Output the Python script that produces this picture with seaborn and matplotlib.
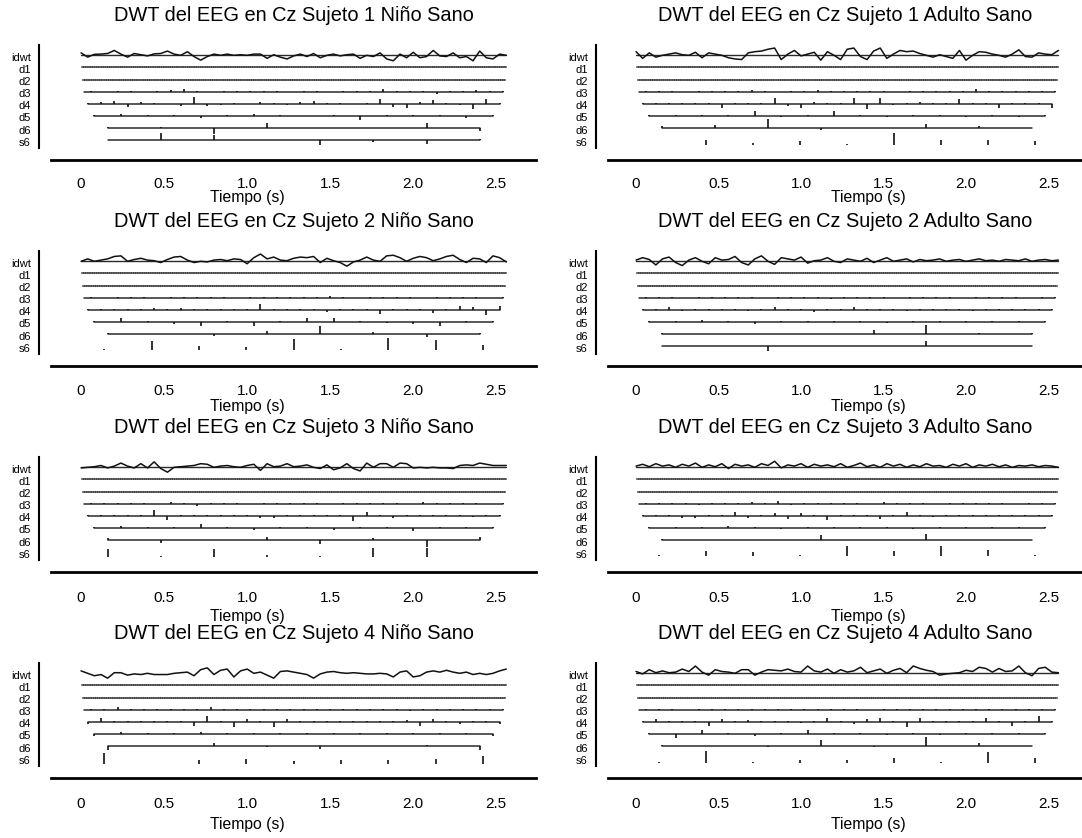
import numpy as np
import matplotlib
matplotlib.use("Agg")
import matplotlib.pyplot as plt
import seaborn as sns

# ---------------- data ----------------
titles = [
    "DWT del EEG en Cz Sujeto 1 Niño Sano", "DWT del EEG en Cz Sujeto 1 Adulto Sano",
    "DWT del EEG en Cz Sujeto 2 Niño Sano", "DWT del EEG en Cz Sujeto 2 Adulto Sano",
    "DWT del EEG en Cz Sujeto 3 Niño Sano", "DWT del EEG en Cz Sujeto 3 Adulto Sano",
    "DWT del EEG en Cz Sujeto 4 Niño Sano", "DWT del EEG en Cz Sujeto 4 Adulto Sano",
]
level_names = ["idwt", "d1", "d2", "d3", "d4", "d5", "d6", "s6"]
xtick_values = [0, 0.5, 1.0, 1.5, 2.0, 2.5]
xtick_labels = ["0", "0.5", "1.0", "1.5", "2.0", "2.5"]
xlabel = "Tiempo (s)"

# time spans (s) of each decomposition level
span_idwt = (0.0, 2.56)
span_d1 = (0.005, 2.56)
span_d2 = (0.01, 2.55)
span_d3 = (0.02, 2.54)
span_d4 = (0.04, 2.52)
span_d5 = (0.08, 2.48)
span_d6 = (0.16, 2.40)
span_s6_9 = (0.14, 2.42)

# reconstructed signal (idwt), every 0.04 s
idwt_1 = [0.2, -0.15, 0.08, 0.1, 0.15, 0.4, 0.1, -0.15, 0.15, 0.05,
          -0.05, 0.12, 0.15, 0.35, 0.1, 0.0, 0.3, -0.1, -0.4, -0.1,
          0.1, 0.0, 0.1, 0.0, 0.05, 0.0, 0.1, 0.1, -0.25, 0.05,
          -0.15, -0.3, -0.05, 0.1, -0.1, 0.15, -0.2, 0.0, 0.1, -0.05,
          0.05, 0.1, -0.25, 0.0, -0.1, 0.2, -0.3, -0.45, 0.1, -0.2,
          0.25, -0.2, -0.1, 0.4, -0.05, -0.1, 0.2, -0.2, -0.1, -0.45,
          0.35, -0.2, -0.3, 0.1, 0.0]
idwt_2 = [0.3, -0.25, 0.2, -0.15, 0.0, 0.1, 0.2, 0.05, 0.0, 0.25,
          -0.2, 0.2, 0.1, 0.0, -0.2, -0.3, -0.35, 0.2, 0.3, 0.35,
          0.5, 0.6, -0.35, 0.1, 0.4, -0.05, 0.1, 0.25, -0.4, 0.3,
          0.0, -0.35, 0.5, 0.6, -0.1, -0.35, 0.35, 0.6, -0.25, 0.1,
          0.4, 0.3, 0.35, 0.15, 0.0, -0.15, 0.05, -0.1, -0.25, 0.4,
          -0.4, 0.0, 0.3, 0.25, 0.1, 0.0, -0.15, 0.1, 0.45, -0.1,
          -0.15, 0.2, 0.1, 0.05, 0.4]
idwt_3 = [0.0, 0.2, 0.0, 0.1, 0.2, 0.4, 0.45, 0.0, 0.15, 0.25,
          0.1, 0.05, -0.1, 0.15, 0.35, 0.4, 0.1, -0.1, 0.0, -0.05,
          0.1, 0.15, 0.05, 0.2, 0.15, -0.2, 0.3, 0.6, 0.2, 0.35,
          0.1, 0.05, 0.25, 0.35, 0.3, 0.4, -0.1, 0.25, 0.05, -0.1,
          -0.4, -0.05, 0.1, 0.35, 0.1, 0.0, 0.45, 0.5, 0.3, 0.0,
          0.25, 0.4, 0.3, 0.05, 0.2, 0.4, 0.5, 0.15, -0.1, 0.25,
          0.2, -0.1, 0.45, 0.3, -0.05]
idwt_4 = [0.1, 0.3, 0.15, -0.3, 0.2, 0.35, -0.1, -0.35, 0.1, 0.3,
          0.0, -0.2, 0.3, 0.1, 0.15, 0.4, -0.1, -0.3, 0.2, 0.45,
          0.0, -0.25, 0.3, 0.2, 0.1, 0.35, -0.15, 0.05, 0.1, 0.3,
          0.0, -0.1, 0.2, 0.1, 0.0, 0.25, -0.1, 0.1, 0.3, 0.0,
          0.1, 0.2, -0.05, 0.15, 0.05, 0.1, 0.2, 0.0, 0.1, 0.15,
          0.0, 0.1, 0.2, 0.05, 0.1, 0.0, 0.15, 0.1, 0.05, 0.2,
          0.0, 0.1, 0.15, 0.05, 0.1]
idwt_5 = [-0.05, 0.0, 0.05, 0.15, -0.05, 0.1, 0.35, 0.1, -0.05, 0.3,
          -0.05, 0.45, -0.1, -0.4, 0.0, 0.05, 0.1, 0.15, 0.3, 0.25,
          0.0, 0.1, 0.15, 0.05, 0.0, 0.15, 0.25, -0.25, 0.3, 0.05,
          0.1, 0.3, 0.05, 0.1, 0.2, 0.0, -0.1, 0.2, -0.2, -0.05,
          0.3, -0.1, -0.3, 0.35, 0.0, 0.3, 0.3, 0.0, 0.35, 0.3,
          -0.05, 0.0, -0.05, 0.0, -0.05, -0.05, -0.1, 0.15, 0.2, 0.15,
          0.35, 0.25, 0.15, 0.15, 0.15]
idwt_6 = [0.1, 0.25, 0.05, 0.3, 0.1, 0.2, 0.0, 0.25, 0.1, 0.35,
          0.0, 0.2, 0.05, 0.3, -0.1, 0.25, 0.1, 0.2, 0.0, 0.3,
          0.15, 0.5, -0.05, 0.2, 0.1, 0.3, 0.0, 0.25, 0.1, 0.2,
          0.05, 0.3, 0.0, 0.15, 0.35, 0.05, 0.2, 0.0, 0.3, 0.1,
          0.25, 0.0, 0.2, 0.05, 0.3, 0.1, 0.15, 0.0, 0.25, 0.1,
          0.3, 0.0, 0.2, 0.1, 0.25, 0.05, 0.2, 0.0, 0.15, 0.1,
          0.2, 0.05, 0.15, 0.1, 0.0]
idwt_7 = [0.2, 0.0, -0.2, -0.1, -0.4, 0.05, 0.05, -0.15, -0.05, -0.1,
          0.0, -0.1, -0.1, -0.1, 0.0, 0.05, 0.1, -0.2, 0.3, 0.45,
          -0.1, 0.25, 0.35, -0.3, 0.2, 0.35, 0.0, 0.1, -0.15, -0.4,
          0.15, 0.2, 0.1, 0.0, -0.1, -0.4, -0.05, 0.1, 0.15, 0.05,
          0.0, 0.05, 0.0, -0.05, -0.05, 0.0, -0.05, -0.3, 0.1, 0.2,
          -0.3, -0.2, 0.1, 0.2, 0.1, 0.25, 0.1, 0.0, 0.1, -0.1,
          0.0, -0.1, 0.0, 0.2, 0.35]
idwt_8 = [0.15, -0.05, 0.3, 0.05, 0.2, 0.05, 0.1, 0.35, 0.15, 0.6,
          0.1, -0.15, 0.3, 0.15, 0.1, 0.0, 0.3, 0.3, -0.15, 0.1,
          0.3, 0.25, 0.2, 0.35, 0.15, 0.1, 0.6, 0.2, 0.1, 0.35,
          0.0, 0.3, 0.1, 0.2, 0.5, 0.05, 0.2, 0.35, 0.0, 0.25,
          0.4, 0.05, 0.6, 0.4, 0.25, 0.15, -0.15, -0.05, 0.0, 0.05,
          0.25, 0.15, 0.5, 0.4, 0.1, 0.4, 0.15, 0.2, 0.6, 0.05,
          -0.2, 0.4, 0.5, 0.1, 0.05]

# detail coefficients d3 (32), d4 (32), d5 (16), d6 (8), approximation s6
d3_1 = [0.05, -0.05, 0.05, 0.05, -0.05, 0.05, 0.15, 0.2, 0.1, -0.05, 0.05, 0.05, 0.05, 0.1, 0.05, -0.05,
        0.05, 0.05, -0.05, 0.05, 0.05, 0.05, 0.2, 0.1, 0.05, 0.1, -0.15, 0.05, 0.05, 0.15, 0.1, 0.05]
d3_2 = [0.05, 0.1, 0.05, -0.05, 0.1, 0.05, 0.1, 0.05, 0.15, 0.05, -0.05, 0.05, 0.1, 0.15, 0.05, 0.05,
        0.1, 0.05, 0.05, -0.05, 0.1, 0.05, 0.05, 0.1, 0.05, 0.25, 0.05, 0.05, 0.1, 0.05, 0.1, 0.05]
d3_3 = [0.05, -0.05, 0.05, 0.05, 0.05, -0.05, 0.05, 0.05, 0.1, 0.05, 0.05, -0.05, 0.05, 0.05, 0.05, 0.05,
        0.05, 0.05, 0.15, 0.05, -0.05, 0.05, 0.05, 0.05, 0.05, -0.05, 0.05, 0.05, 0.05, 0.05, -0.05, 0.05]
d3_4 = [0.05, 0.1, 0.05, -0.05, 0.1, 0.05, 0.05, 0.1, 0.05, -0.05, 0.05, 0.1, 0.05, 0.05, -0.1, 0.05,
        0.1, 0.05, 0.05, -0.05, 0.1, 0.05, 0.05, 0.1, -0.05, 0.05, 0.1, 0.05, 0.05, -0.05, 0.05, 0.05]
d3_5 = [0.05, 0.05, 0.1, 0.05, 0.05, -0.05, 0.15, 0.1, -0.2, 0.05, 0.05, 0.05, -0.05, 0.1, 0.05, 0.05,
        0.05, 0.1, -0.05, 0.05, 0.05, 0.05, 0.1, 0.05, -0.05, 0.15, 0.05, 0.1, 0.05, 0.05, -0.05, 0.05]
d3_6 = [0.05, 0.1, 0.05, 0.05, -0.1, 0.05, 0.1, 0.05, 0.15, 0.1, 0.2, -0.1, 0.05, 0.1, 0.05, 0.05,
        0.1, -0.05, 0.15, 0.05, 0.1, 0.05, -0.05, 0.1, 0.05, 0.05, 0.1, 0.05, -0.05, 0.1, 0.05, 0.05]
d3_7 = [0.05, 0.05, 0.2, 0.05, 0.05, 0.05, 0.05, 0.05, 0.05, 0.2, 0.05, 0.05, 0.05, 0.05, 0.05, 0.05,
        0.05, 0.05, 0.05, 0.05, 0.05, 0.05, 0.05, 0.05, -0.1, 0.05, 0.05, 0.05, 0.05, 0.05, 0.05, 0.05]
d3_8 = [0.1, 0.05, 0.05, -0.05, 0.05, 0.05, 0.05, 0.05, 0.05, 0.05, 0.05, 0.05, 0.05, 0.1, 0.05, 0.05,
        0.05, -0.05, 0.05, 0.05, 0.1, 0.05, 0.05, 0.05, 0.05, 0.05, 0.05, 0.05, 0.1, 0.05, 0.1, 0.05]

d4_1 = [0.05, 0.15, 0.2, -0.25, 0.15, 0.05, 0.0, -0.2, 0.55, -0.15, -0.1, 0.05, 0.0, 0.15, 0.05, -0.1,
        0.15, 0.2, 0.05, 0.05, 0.0, 0.1, 0.4, -0.25, -0.3, 0.15, 0.35, 0.05, -0.1, -0.4, 0.4, 0.1]
d4_2 = [0.05, 0.1, 0.05, 0.1, 0.05, 0.05, -0.35, 0.05, 0.05, 0.05, 0.5, -0.15, -0.3, 0.15, 0.05, 0.05,
        0.45, -0.45, 0.45, -0.1, 0.05, 0.15, 0.05, 0.05, 0.4, 0.05, 0.05, -0.3, 0.05, 0.1, 0.1, -0.3]
d4_3 = [0.05, 0.05, 0.1, 0.05, 0.1, 0.15, 0.1, 0.15, 0.05, 0.05, 0.1, 0.1, 0.05, 0.5, 0.1, 0.05,
        0.05, 0.1, -0.15, 0.1, 0.1, 0.05, -0.3, 0.1, 0.1, 0.1, -0.25, 0.05, 0.3, 0.25, -0.45, 0.3]
d4_4 = [0.05, 0.1, 0.2, -0.1, 0.05, 0.1, 0.05, 0.1, -0.1, 0.05, 0.2, 0.05, 0.1, -0.15, 0.05, 0.1,
        0.2, 0.05, 0.1, 0.05, -0.1, 0.1, 0.05, 0.05, 0.1, -0.1, 0.05, 0.1, 0.05, 0.05, 0.1, 0.05]
d4_5 = [0.05, 0.05, 0.05, 0.05, 0.05, 0.5, -0.35, 0.05, 0.05, 0.05, 0.05, 0.05, 0.05, -0.2, -0.15, 0.1,
        0.1, 0.05, 0.05, 0.05, -0.45, 0.3, 0.1, -0.15, 0.05, 0.05, 0.05, 0.05, 0.05, -0.1, 0.1, 0.1]
d4_6 = [0.05, 0.1, 0.05, -0.2, -0.2, 0.1, 0.05, 0.3, -0.2, 0.1, 0.2, -0.25, 0.25, 0.1, -0.3, 0.05,
        0.1, 0.05, -0.25, 0.1, 0.3, 0.05, -0.1, 0.05, 0.1, 0.05, 0.05, 0.1, 0.05, 0.05, 0.1, 0.05]
d4_7 = [-0.2, 0.3, 0.05, 0.05, 0.05, 0.05, 0.05, 0.05, -0.3, 0.5, 0.05, -0.4, 0.2, 0.1, -0.4, 0.2,
        0.05, 0.1, 0.05, 0.05, 0.05, 0.05, 0.05, 0.05, 0.15, -0.3, 0.2, 0.05, -0.2, 0.05, 0.1, -0.2]
d4_8 = [0.05, 0.2, 0.05, 0.05, 0.05, -0.3, 0.2, 0.05, 0.15, 0.05, 0.05, 0.05, -0.1, 0.05, 0.3, 0.05,
        -0.2, 0.2, 0.3, 0.05, -0.45, 0.35, 0.05, 0.05, 0.05, 0.05, 0.3, 0.05, -0.3, 0.05, 0.45, 0.1]

d5_1 = [0.05, 0.15, 0.1, 0.1, -0.15, 0.1, 0.15, 0.05, 0.0, 0.05, -0.3, 0.05, 0.05, 0.05, -0.15, 0.1]
d5_2 = [0.05, 0.05, 0.05, 0.05, 0.4, -0.1, 0.05, 0.4, 0.1, -0.1, 0.05, 0.05, -0.1, 0.05, -0.1, 0.1]
d5_3 = [0.1, 0.35, 0.05, -0.15, -0.35, 0.05, -0.3, 0.05, 0.3, 0.3, 0.05, -0.1, -0.2, -0.3, 0.05, 0.05]
d5_4 = [0.05, 0.1, 0.2, 0.05, -0.15, 0.1, 0.05, 0.1, 0.05, -0.1, 0.05, 0.1, 0.05, 0.1, 0.05, 0.05]
d5_5 = [0.05, 0.15, 0.1, 0.1, 0.35, 0.05, -0.2, 0.05, 0.05, -0.15, 0.05, 0.05, -0.25, 0.05, 0.05, 0.05]
d5_6 = [0.05, 0.1, 0.05, 0.15, 0.05, -0.1, 0.1, 0.05, 0.05, 0.1, -0.1, 0.05, 0.1, 0.05, 0.05, 0.05]
d5_7 = [-0.2, 0.2, 0.05, 0.05, 0.15, 0.05, 0.05, 0.05, 0.05, 0.05, 0.05, 0.05, 0.1, 0.1, 0.1, -0.2]
d5_8 = [0.05, -0.3, 0.35, 0.05, -0.15, 0.05, 0.3, 0.05, 0.05, -0.1, 0.05, -0.1, 0.05, 0.05, 0.1, 0.05]

d6_1 = [0.1, 0.1, -0.5, 0.45, 0.0, 0.05, 0.45, -0.2]
d6_2 = [0.15, 0.3, 0.75, -0.15, 0.0, 0.35, 0.2, 0.05]
d6_3 = [0.1, 0.05, -0.15, 0.3, 0.65, 0.15, -0.25, 0.1]
d6_4 = [0.1, 0.05, 0.05, 0.05, 0.35, 0.75, 0.1, 0.1]
d6_5 = [0.15, -0.25, 0.0, 0.3, -0.35, 0.15, -0.55, 0.3]
d6_6 = [0.1, 0.05, 0.05, 0.4, 0.05, 0.5, 0.05, 0.05]
d6_7 = [-0.3, 0.05, 0.3, -0.1, -0.25, 0.05, 0.1, -0.3]
d6_8 = [0.1, 0.05, -0.1, 0.5, -0.1, 0.75, 0.3, 0.05]

s6_1 = [0.05, 0.6, 0.45, 0.05, -0.35, -0.1, -0.3, 0.1]
s6_2 = [0.05, 0.4, 0.2, 0.35, 0.1, 1.0, 0.4, 0.4, 0.35]
s6_3 = [0.05, 0.7, 0.35, 0.25, 0.9, 0.05, 0.95, 0.8, 0.4]
s6_4 = [0.05, 0.05, -0.4, 0.05, 0.05, 0.45, 0.05, 0.05]
s6_5 = [0.7, 0.1, 0.7, 0.2, 0.1, 0.75, 0.75, 0.05]
s6_6 = [0.05, 0.4, 0.3, 0.1, 0.8, 0.4, 0.8, 0.5, 0.05]
s6_7 = [0.9, 0.05, 0.35, 0.45, 0.3, 0.4, 0.4, 0.45, 0.7]
s6_8 = [0.05, 1.0, 0.05, 0.2, 0.2, 0.4, 0.05, 0.85, 0.4]

idwt_all = [idwt_1, idwt_2, idwt_3, idwt_4, idwt_5, idwt_6, idwt_7, idwt_8]
d3_all = [d3_1, d3_2, d3_3, d3_4, d3_5, d3_6, d3_7, d3_8]
d4_all = [d4_1, d4_2, d4_3, d4_4, d4_5, d4_6, d4_7, d4_8]
d5_all = [d5_1, d5_2, d5_3, d5_4, d5_5, d5_6, d5_7, d5_8]
d6_all = [d6_1, d6_2, d6_3, d6_4, d6_5, d6_6, d6_7, d6_8]
s6_all = [s6_1, s6_2, s6_3, s6_4, s6_5, s6_6, s6_7, s6_8]

# ---------------- style ----------------
idwt_baseline_shown = [True, True, True, True, True, True, False, True]
s6_baseline_shown = [True, False, False, True, False, False, False, False]
s6_base_offset = [0.0, 0.4, 0.3, 0.0, 0.4, 0.3, 0.5, 0.37]

sns.set_theme(style="white")
plt.rcParams["font.family"] = ["Liberation Sans", "DejaVu Sans"]

W, H, DPI = 1082, 838, 100
fig = plt.figure(figsize=(W / DPI, H / DPI), dpi=DPI)

col_left = [51, 608]
col_right = [536, 1082]
row_top0 = 45.0
row_h = 103.3
row_step = 206.0
xlim_cols = [(-0.181, 2.739), (-0.17, 2.703)]
label_x_frac = [0.404, 0.55]
xlabel_center_below = [49, 52, 56, 58]   # px below axes bottom, per row
tick_pad_rows = [10.0, 10.5, 11.5, 11.5]
line_col = "#111111"
base_col = "#2a2a2a"

for idx in range(8):
    r, c = divmod(idx, 2)
    top = row_top0 + row_step * r
    bot = top + row_h
    ax = fig.add_axes([col_left[c] / W, 1 - bot / H,
                       (col_right[c] - col_left[c]) / W, row_h / H])
    ax.set_xlim(*xlim_cols[c])
    ax.set_ylim(7.66, -0.85)

    # idwt
    yv = np.asarray(idwt_all[idx])
    tv = np.linspace(span_idwt[0], span_idwt[1], len(yv))
    if idwt_baseline_shown[idx]:
        ax.plot(span_idwt, [0, 0], color=base_col, lw=1.0)
    sns.lineplot(x=tv, y=0 - yv, ax=ax, color=line_col, lw=1.1, sort=False)

    # d1, d2 (dense, tiny coefficients)
    for lvl, sp in ((1, span_d1), (2, span_d2)):
        ax.plot(sp, [lvl, lvl], color=base_col, lw=1.3)
        ax.plot(sp, [lvl, lvl], color="#777777", lw=1.3, ls=(0, (0.6, 0.6)))

    # d3..d6 stems
    for lvl, vals, sp in ((3, d3_all[idx], span_d3), (4, d4_all[idx], span_d4),
                          (5, d5_all[idx], span_d5), (6, d6_all[idx], span_d6)):
        v = np.asarray(vals)
        if lvl == 3:
            t = np.linspace(sp[0] + 0.04, sp[1], len(v))
        else:
            t = np.linspace(sp[0], sp[1], len(v))
        ax.plot(sp, [lvl, lvl], color=base_col, lw=1.1)
        ax.vlines(t, lvl, lvl - v, color=line_col, lw=1.2)

    # s6
    v = np.asarray(s6_all[idx])
    sp = span_d6 if len(v) == 8 else span_s6_9
    t = np.linspace(sp[0], sp[1], len(v))
    base = 7 + s6_base_offset[idx]
    if s6_baseline_shown[idx]:
        ax.plot(sp, [base, base], color=base_col, lw=1.1)
    ax.vlines(t, base, base - v, color=line_col, lw=1.2)

    # axes cosmetics
    ax.set_yticks(np.arange(8) + 0.12)
    ax.set_yticklabels(level_names)
    ax.set_xticks(xtick_values)
    ax.set_xticklabels(xtick_labels, family=["Lato", "DejaVu Sans"], fontsize=12)
    ax.tick_params(axis="y", labelsize=8, length=2, width=0.8, pad=4, color="black", labelcolor="black")
    ax.tick_params(axis="x", length=2, width=0.6, pad=tick_pad_rows[r], color="#444444", labelcolor="black")
    sns.despine(ax=ax, offset=8.6)
    ax.spines["left"].set_linewidth(1.5)
    ax.spines["bottom"].set_linewidth(2.0)
    ax.spines["left"].set_color("black")
    ax.spines["bottom"].set_color("black")
    ax.set_title(titles[idx], fontsize=14.4, pad=17.5, color="black")
    ax.set_xlabel(xlabel, fontsize=11.3, color="black")
    ax.xaxis.set_label_coords(label_x_frac[c], -xlabel_center_below[r] / row_h)
    ax.xaxis.label.set_va("center")
    ax.set_facecolor("none")

fig.savefig("out.png", dpi=DPI, facecolor="white")
